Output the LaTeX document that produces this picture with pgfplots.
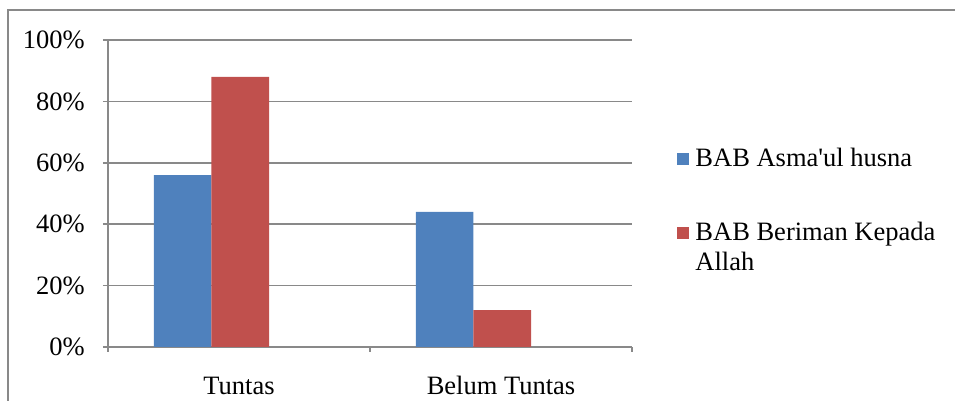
\documentclass[border=0pt]{standalone}
\usepackage{pgfplots}
\pgfplotsset{compat=1.18}
\usepackage{fontspec}
\setmainfont{Liberation Serif}
\definecolor{barblue}{HTML}{4F81BD}
\definecolor{barred}{HTML}{C0504D}
\definecolor{gridgray}{HTML}{898989}
\begin{document}
\begin{tikzpicture}
\useasboundingbox (0,0) rectangle (477.5pt,200.5pt);
% frame of the chart area (right and bottom lie outside the picture)
\draw[gridgray, line width=0.75pt] (4pt,-10pt) -- (4pt,195.5pt) -- (500pt,195.5pt);
\begin{axis}[
  at={(54pt,27pt)}, anchor=south west,
  scale only axis, width=262pt, height=153.5pt,
  xmin=-0.5, xmax=1.5, ymin=0, ymax=100,
  axis x line*=bottom, axis y line*=left,
  axis line style={gridgray, line width=0.75pt, -},
  tick style={gridgray, line width=0.75pt},
  tick align=outside, major tick length=2.5pt,
  ytick={0,20,40,60,80,100},
  yticklabels={0\%,20\%,40\%,60\%,80\%,100\%},
  ymajorgrids, grid style={gridgray, line width=0.75pt},
  xtick={-0.5,0.5,1.5},
  xticklabels={Tuntas,Belum Tuntas,},
  x tick label as interval,
  tick label style={font=\fontsize{13.25}{15}\selectfont, text=black},
  yticklabel style={anchor=east, inner sep=0pt, xshift=-9pt},
  xticklabel style={anchor=base, inner sep=0pt, yshift=-21.5pt},
  legend style={at={(rel axis cs:1.086,0.672)}, anchor=north west,
    draw=none, fill=none, inner sep=0pt, row sep=21pt, column sep=1pt,
    font=\fontsize{13.25}{15}\selectfont,
    cells={anchor=base west, inner sep=0pt}},
]
\addplot[ybar, bar width=0.22, bar shift=-0.215, fill=barblue, draw=none,
  legend image code/.code={\fill[barblue] (0pt,0.5pt) rectangle (6pt,6.5pt);}]
  coordinates {(0,56) (1,44)};
\addlegendentry{\begin{tabular}[t]{@{}l@{}}BAB Asma\textquotesingle ul husna\end{tabular}}
\addplot[ybar, bar width=0.22, bar shift=0.005, fill=barred, draw=none,
  legend image code/.code={\fill[barred] (0pt,0.5pt) rectangle (6pt,6.5pt);}]
  coordinates {(0,88) (1,12)};
\addlegendentry{\begin{tabular}[t]{@{}l@{}}BAB Beriman Kepada\\Allah\end{tabular}}
\end{axis}
\end{tikzpicture}
\end{document}
